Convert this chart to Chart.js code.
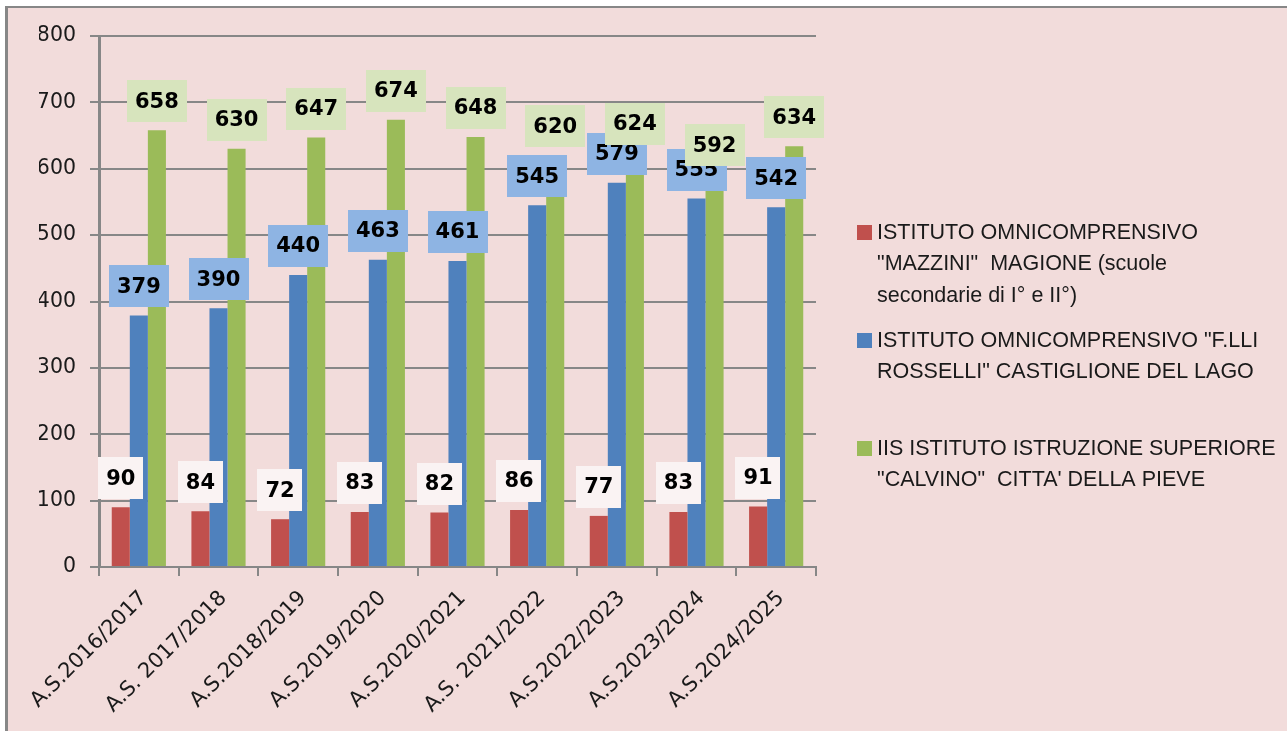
<!DOCTYPE html>
<html>
<head>
<meta charset="utf-8">
<script src="https://cdn.jsdelivr.net/npm/chart.js@4.4.0/dist/chart.umd.min.js"></script>
<style>
html, body { margin: 0; padding: 0; background: #ffffff; }
#frame { position: absolute; left: 5px; top: 6px; width: 1279px; height: 723px;
         border-left: 3px solid #878787; border-top: 2px solid #878787; background: #f2dcdb; }
#wrap { position: absolute; left: 0; top: 0; width: 1287px; height: 731px; }
</style>
</head>
<body>
<div id="frame"></div>
<div id="wrap"><canvas id="myChart" width="1287" height="731"></canvas></div>
<script>
// dati
var anni = ['A.S.2016/2017', 'A.S. 2017/2018', 'A.S.2018/2019', 'A.S.2019/2020', 'A.S.2020/2021',
            'A.S. 2021/2022', 'A.S.2022/2023', 'A.S.2023/2024', 'A.S.2024/2025'];
var mazzini  = [90, 84, 72, 83, 82, 86, 77, 83, 91];
var rosselli = [379, 390, 440, 463, 461, 545, 579, 555, 542];
var calvino  = [658, 630, 647, 674, 648, 620, 624, 592, 634];
var yTicks = [0, 100, 200, 300, 400, 500, 600, 700, 800];

var nomiScuole = [
    ['ISTITUTO OMNICOMPRENSIVO', '"MAZZINI"  MAGIONE (scuole', 'secondarie di I° e II°)'],
    ['ISTITUTO OMNICOMPRENSIVO "F.LLI', 'ROSSELLI" CASTIGLIONE DEL LAGO'],
    ['IIS ISTITUTO ISTRUZIONE SUPERIORE', '"CALVINO"  CITTA\' DELLA PIEVE']
];

var coloriBarre = ['#c0504d', '#4f81bd', '#9bbb59'];
var coloriEtichette = ['#faf3f3', '#8eb4e3', '#d7e4bd'];

// etichette con riquadro sopra le barre
var etichette = {
    id: 'etichette',
    afterDatasetsDraw: function (chart) {
        var ctx = chart.ctx;
        ctx.save();
        ctx.font = 'bold 21px "DejaVu Sans"';
        ctx.textAlign = 'center';
        ctx.textBaseline = 'middle';
        chart.data.datasets.forEach(function (ds, i) {
            chart.getDatasetMeta(i).data.forEach(function (bar, j) {
                var txt = String(ds.data[j]);
                var w = ctx.measureText(txt).width + 16;
                var h = 42;
                var top = bar.y - 8 - h;
                ctx.fillStyle = coloriEtichette[i];
                ctx.fillRect(Math.round(bar.x - w / 2), Math.round(top), Math.round(w), h);
                ctx.fillStyle = '#000000';
                ctx.fillText(txt, bar.x, top + h / 2 + 1);
            });
        });
        ctx.restore();
    }
};

// legenda a destra
var legenda = {
    id: 'legenda',
    afterDraw: function (chart) {
        var ctx = chart.ctx;
        var tops = [232, 340, 448];
        ctx.save();
        ctx.font = '21.5px "Liberation Sans"';
        ctx.textAlign = 'left';
        ctx.textBaseline = 'middle';
        chart.data.datasets.forEach(function (ds, i) {
            ctx.fillStyle = ds.backgroundColor;
            ctx.fillRect(857, tops[i] - 7, 15, 15);
            ctx.fillStyle = '#1a1a1a';
            for (var k = 0; k < nomiScuole[i].length; k++) {
                ctx.fillText(nomiScuole[i][k], 877, tops[i] + 1 + k * 31.5);
            }
        });
        ctx.restore();
    }
};

var datasets = [mazzini, rosselli, calvino].map(function (serie, i) {
    return {
        label: nomiScuole[i].join(' '),
        data: serie,
        backgroundColor: coloriBarre[i],
        borderWidth: 0,
        categoryPercentage: 0.68,
        barPercentage: 1.0
    };
});

var ctx = document.getElementById('myChart').getContext('2d');
var myBarChart = new Chart(ctx, {
    type: 'bar',
    data: { labels: anni, datasets: datasets },
    plugins: [etichette, legenda],
    options: {
        responsive: false,
        animation: false,
        layout: { padding: { left: 39, top: 36, right: 471, bottom: 0 } },
        plugins: {
            legend: { display: false },
            tooltip: { enabled: false }
        },
        scales: {
            x: {
                offset: true,
                grid: { display: true, drawOnChartArea: false, offset: true, color: '#878787', lineWidth: 2, tickLength: 9 },
                border: { color: '#878787', width: 2 },
                ticks: { color: '#1a1a1a', font: { family: 'DejaVu Sans', size: 21 }, minRotation: 45, maxRotation: 45, padding: 10, labelOffset: 5 },
                afterFit: function (s) { s.height = 164; s.paddingLeft = 0; s.paddingRight = 0; }
            },
            y: {
                min: 0,
                max: 800,
                afterBuildTicks: function (s) { s.ticks = yTicks.map(function (v) { return { value: v }; }); },
                grid: { color: '#878787', lineWidth: 2, tickLength: 9 },
                border: { color: '#878787', width: 3 },
                ticks: { color: '#1a1a1a', font: { family: 'DejaVu Sans', size: 20.5 }, padding: 14 },
                afterFit: function (s) { s.width = 60; s.paddingTop = 0; s.paddingBottom = 0; }
            }
        }
    }
});
</script>
</body>
</html>
